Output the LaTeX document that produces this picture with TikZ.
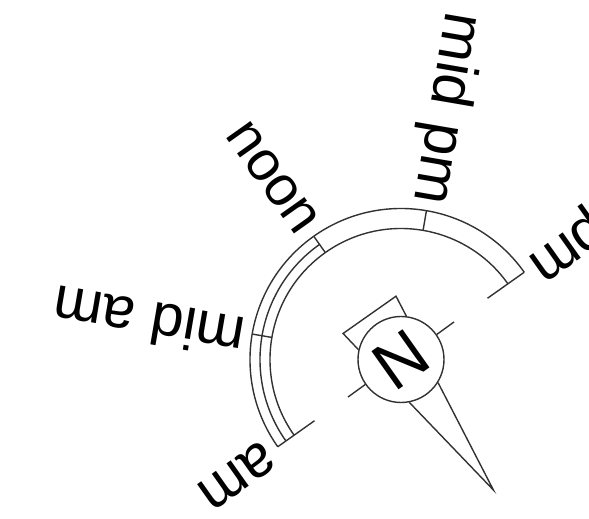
\documentclass[tikz,border=0pt]{standalone}
\usepackage{fontspec}
\setmainfont{Liberation Sans}
\definecolor{DialInk}{RGB}{50,50,50}
\tikzset{
  rim/.style={draw=DialInk,line width=1.4pt},
  dayword/.style={font=\fontsize{59}{59}\selectfont,inner sep=0pt,text=black},
  dial/.style={circle,draw=DialInk,line width=1.4pt,fill=white,minimum size=86pt,inner sep=0pt,
    font=\fontsize{68}{68}\selectfont}
}
\begin{document}
\begin{tikzpicture}[x=1pt,y=1pt]
  \useasboundingbox (0,0) rectangle (589,519);
  \begin{scope}[shift={(401,159.5)}]
    % day band
    \draw[rim] (215.3:151) arc[start angle=215.3,end angle=35.3,radius=151];
    \draw[rim] (215.3:141) arc[start angle=215.3,end angle=125.3,radius=141];
    \draw[rim] (215.3:131) arc[start angle=215.3,end angle=35.3,radius=131];
    \coordinate (amend) at (215.3:106);
    \coordinate (amrim) at (215.3:151);
    \coordinate (pmend) at (35.3:106);
    \coordinate (pmrim) at (35.3:151);
    \draw[rim] (amrim) -- (amend);
    \draw[rim] (pmrim) -- (pmend);
    \draw[rim] (170.3:131) -- (170.3:151);
    \draw[rim] (125.3:131) -- (125.3:151);
    \draw[rim] (80.3:131) -- (80.3:151);
    % compass
    \node[dial] (compass) at (0,0) {};
    \node[dial,draw=none,fill=none,rotate=215.3] (letter) at (0,0) {N};
    \coordinate (tip) at (305.3:160);
    \coordinate (tabl) at (155.8:63.5);
    \coordinate (tabr) at (94.5:63.5);
    \coordinate (tickne) at (35.3:65);
    \coordinate (ticksw) at (215.3:65);
    \draw[rim] (compass.281.8) -- (tip) -- (compass.328.8);
    \draw[rim] (compass.167.3) -- (tabl) -- (tabr) -- (compass.83.3);
    \draw[rim] (compass.35.3) -- (tickne);
    \draw[rim] (compass.215.3) -- (ticksw);
    % hour words
    \node[dayword,rotate=215.3,anchor=west] (am) at (215.3:160) {am};
    \node[dayword,rotate=170.3,anchor=west] (midam) at (172.5:158) {mid am};
    \node[dayword,font=\fontsize{56}{56}\selectfont,rotate=305.3,anchor=east] (noon) at (125.3:160) {noon};
    \node[dayword,rotate=260.3,anchor=east] (midpm) at (79.7:158) {mid pm};
    \node[dayword,rotate=215.3,anchor=east] (pm) at (35.3:160) {pm};
  \end{scope}
\end{tikzpicture}
\end{document}
